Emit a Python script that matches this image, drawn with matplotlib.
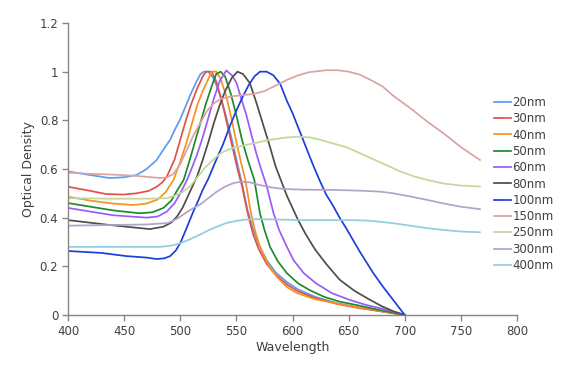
import matplotlib.pyplot as plt

# Normalisierte Spektren, Werte
wl_20 = [400, 420, 437, 450, 461, 470, 479, 485, 491, 495, 500, 505, 509, 514, 518, 521, 525, 530, 535, 540, 545,
         550, 555, 560, 565, 570, 577, 585, 595, 605, 620, 640, 660, 680, 700]
od_20 = [0.59, 0.575, 0.563, 0.566, 0.575, 0.6, 0.637, 0.68, 0.72, 0.76, 0.805, 0.86, 0.905, 0.955, 0.99, 1.0, 1.0,
         0.97, 0.91, 0.83, 0.74, 0.64, 0.54, 0.43, 0.35, 0.29, 0.225, 0.175, 0.135, 0.105, 0.075, 0.048, 0.03,
         0.015, 0.0]

wl_30 = [400, 420, 434, 450, 461, 472, 479, 484, 488, 495, 500, 505, 510, 515, 520, 523, 528, 532, 537, 542, 547,
         551, 555, 560, 565, 570, 577, 585, 595, 605, 620, 640, 660, 680, 700]
od_30 = [0.527, 0.51, 0.497, 0.495, 0.5, 0.51, 0.527, 0.545, 0.568, 0.64, 0.72, 0.8, 0.87, 0.93, 0.98, 1.0, 1.0,
         0.96, 0.88, 0.78, 0.68, 0.6, 0.53, 0.42, 0.33, 0.27, 0.21, 0.165, 0.125, 0.097, 0.07, 0.045, 0.028,
         0.014, 0.0]

wl_40 = [400, 420, 440, 458, 470, 480, 487, 494, 500, 505, 510, 515, 520, 525, 528, 532, 536, 541, 546, 550, 554,
         558, 563, 567, 571, 578, 586, 595, 604, 620, 642, 660, 680, 700]
od_40 = [0.486, 0.47, 0.458, 0.452, 0.458, 0.475, 0.505, 0.555, 0.63, 0.7, 0.78, 0.86, 0.92, 0.97, 1.0, 1.0, 0.97,
         0.9, 0.8, 0.71, 0.63, 0.555, 0.418, 0.34, 0.28, 0.21, 0.157, 0.115, 0.09, 0.065, 0.045, 0.03, 0.015, 0.0]

wl_50 = [400, 420, 440, 464, 475, 485, 492, 497, 503, 508, 513, 518, 523, 528, 532, 536, 540, 545, 550, 555, 560,
         566, 571, 575, 580, 587, 595, 605, 615, 628, 642, 657, 678, 700]
od_50 = [0.46, 0.445, 0.43, 0.418, 0.422, 0.44, 0.47, 0.51, 0.555, 0.63, 0.71, 0.79, 0.87, 0.94, 0.99, 1.0, 0.98,
         0.91, 0.82, 0.72, 0.64, 0.555, 0.418, 0.35, 0.28, 0.22, 0.172, 0.13, 0.103, 0.075, 0.055, 0.041, 0.02, 0.0]

wl_60 = [400, 420, 440, 470, 480, 488, 495, 500, 506, 510, 515, 520, 525, 530, 535, 541, 546, 550, 555, 559, 564,
         568, 572, 577, 583, 588, 595, 601, 610, 621, 635, 651, 665, 678, 700]
od_60 = [0.44, 0.425, 0.41, 0.40, 0.405, 0.425, 0.46, 0.5, 0.555, 0.6, 0.66, 0.73, 0.81, 0.89, 0.96, 1.005, 0.985,
         0.955, 0.88, 0.82, 0.73, 0.66, 0.6, 0.53, 0.42, 0.35, 0.28, 0.225, 0.172, 0.13, 0.09, 0.062, 0.042,
         0.028, 0.0]

wl_80 = [400, 437, 473, 485, 492, 497, 502, 506, 510, 515, 520, 525, 530, 535, 540, 546, 551, 556, 562, 568, 574,
         580, 585, 590, 595, 600, 605, 612, 620, 630, 642, 655, 668, 680, 690, 700]
od_80 = [0.39, 0.37, 0.353, 0.363, 0.38, 0.404, 0.44, 0.48, 0.52, 0.57, 0.637, 0.71, 0.79, 0.86, 0.92, 0.975, 1.0,
         0.99, 0.953, 0.87, 0.78, 0.69, 0.61, 0.55, 0.49, 0.44, 0.39, 0.33, 0.27, 0.21, 0.145, 0.1, 0.065, 0.035,
         0.015, 0.0]

wl_100 = [400, 430, 452, 470, 479, 486, 491, 496, 500, 505, 511, 516, 520, 525, 532, 538, 544, 550, 556, 561, 566,
          571, 577, 583, 589, 595, 600, 606, 612, 618, 624, 630, 636, 642, 648, 660, 672, 680, 690, 700]
od_100 = [0.263, 0.255, 0.242, 0.236, 0.23, 0.233, 0.242, 0.265, 0.295, 0.35, 0.418, 0.47, 0.514, 0.56, 0.637, 0.7,
          0.774, 0.84, 0.9, 0.945, 0.98, 1.0, 1.0, 0.985, 0.95, 0.88, 0.83, 0.76, 0.69, 0.62, 0.555, 0.495, 0.45,
          0.4, 0.355, 0.26, 0.172, 0.12, 0.06, 0.0]

wl_150 = [400, 420, 440, 460, 482, 488, 494, 500, 506, 512, 518, 524, 530, 536, 545, 556, 565, 575, 586, 595, 605,
          615, 630, 640, 650, 660, 670, 680, 690, 705, 720, 735, 750, 767]
od_150 = [0.585, 0.58, 0.577, 0.572, 0.563, 0.565, 0.58, 0.62, 0.68, 0.74, 0.79, 0.84, 0.87, 0.888, 0.898, 0.904,
          0.908, 0.92, 0.945, 0.966, 0.985, 0.998, 1.006, 1.006, 1.0, 0.988, 0.965, 0.94, 0.9, 0.85, 0.795, 0.745,
          0.69, 0.637]

wl_250 = [400, 440, 470, 488, 495, 502, 509, 516, 522, 529, 536, 543, 550, 560, 570, 580, 592, 604, 615, 625, 636,
          648, 660, 672, 684, 696, 708, 720, 735, 750, 767]
od_250 = [0.48, 0.478, 0.478, 0.48, 0.49, 0.505, 0.53, 0.57, 0.605, 0.637, 0.665, 0.68, 0.69, 0.7, 0.71, 0.72,
          0.728, 0.733, 0.73, 0.72, 0.705, 0.69, 0.665, 0.64, 0.615, 0.59, 0.57, 0.555, 0.54, 0.532, 0.528]

wl_300 = [400, 440, 470, 489, 497, 505, 512, 518, 525, 532, 540, 548, 555, 562, 570, 580, 592, 610, 636, 660, 678,
          690, 705, 720, 735, 750, 767]
od_300 = [0.367, 0.37, 0.372, 0.378, 0.395, 0.42, 0.44, 0.455, 0.48, 0.505, 0.528, 0.543, 0.548, 0.545, 0.535,
          0.525, 0.518, 0.515, 0.514, 0.511, 0.507, 0.5, 0.487, 0.473, 0.458, 0.445, 0.435]

wl_400 = [400, 440, 482, 492, 500, 508, 517, 526, 534, 541, 550, 558, 565, 580, 607, 630, 651, 667, 678, 690, 705,
          720, 735, 750, 767]
od_400 = [0.28, 0.28, 0.28, 0.285, 0.295, 0.31, 0.329, 0.35, 0.365, 0.378, 0.387, 0.392, 0.394, 0.393, 0.39, 0.39,
          0.39, 0.388, 0.383, 0.377, 0.367, 0.357, 0.349, 0.343, 0.34]

labels = ["20nm", "30nm", "40nm", "50nm", "60nm", "80nm", "100nm", "150nm", "250nm", "300nm", "400nm"]
colors = ["#5b9bf0", "#e2504a", "#f6921e", "#1e8a2e", "#9b5cf6", "#4d4d4d", "#1c3fd8",
          "#dba3a3", "#c4d79b", "#b3a2c9", "#93cddd"]
series = [(wl_20, od_20), (wl_30, od_30), (wl_40, od_40), (wl_50, od_50), (wl_60, od_60), (wl_80, od_80),
          (wl_100, od_100), (wl_150, od_150), (wl_250, od_250), (wl_300, od_300), (wl_400, od_400)]

TEXT = "#404040"
AXIS = "#868686"

fig = plt.figure(figsize=(5.67, 3.67), dpi=100)
ax = fig.add_axes([68 / 567, 1 - 315 / 367, (517 - 68) / 567, (315 - 23) / 367])

for (wl, od), lab, col in zip(series, labels, colors):
    ax.plot(wl, od, color=col, lw=1.25, label=lab)

ax.set_xlim(400, 800)
ax.set_ylim(0, 1.2)
ax.set_xticks(range(400, 801, 50))
ax.set_yticks([0, 0.2, 0.4, 0.6, 0.8, 1.0, 1.2])
ax.set_yticklabels(["0", "0.2", "0.4", "0.6", "0.8", "1", "1.2"])

for s in ["top", "right"]:
    ax.spines[s].set_visible(False)
for s in ["left", "bottom"]:
    ax.spines[s].set_color(AXIS)
    ax.spines[s].set_linewidth(1.0)
ax.tick_params(direction="out", length=4, width=1, color=AXIS, labelcolor=TEXT, labelsize=8.5, pad=3)

ax.set_xlabel("Wavelength", color=TEXT, fontsize=9, labelpad=2)
ax.set_ylabel("Optical Density", color=TEXT, fontsize=9, labelpad=3)

leg = ax.legend(loc="upper left", bbox_to_anchor=(494 / 567, 1 - 96 / 367), bbox_transform=fig.transFigure,
                frameon=False, fontsize=8.5, handlelength=1.4, handletextpad=0.15, labelspacing=0.28,
                borderpad=0, borderaxespad=0)
for t in leg.get_texts():
    t.set_color(TEXT)

fig.savefig("out.png", dpi=100)
